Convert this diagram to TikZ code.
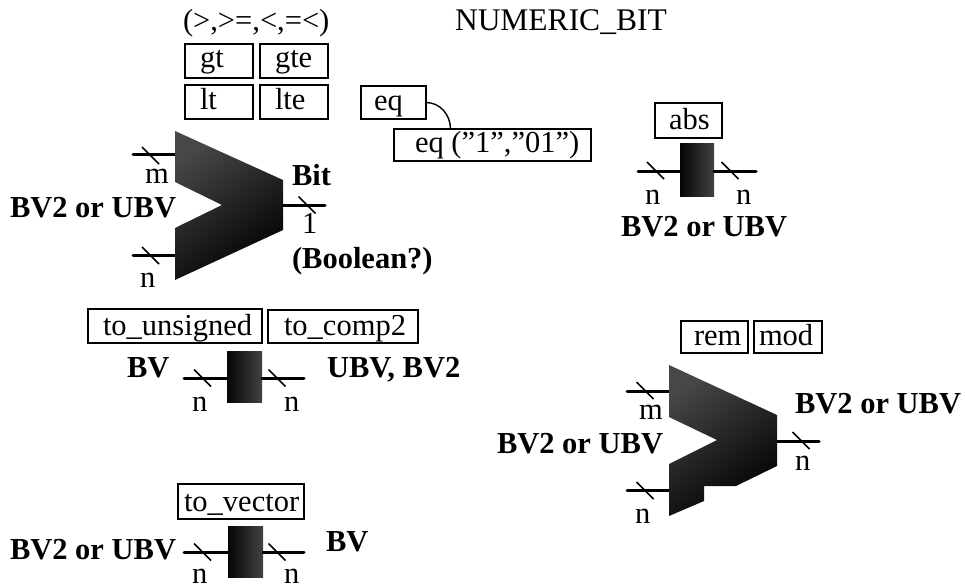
\documentclass[tikz,border=0pt]{standalone}
\usepackage{fontspec}
\setmainfont{Liberation Serif}
\newcommand\lab[4][]{\node[txt,#1] (#2) at #3 {#4};}
% \mybox{name}{x0}{y0}{x1}{y1}{text x}{baseline}{text}
\newcommand\mybox[8]{%
  \pgfmathsetlengthmacro\bw{(#4-#2)*1pt}%
  \pgfmathsetlengthmacro\bh{(#7-#3)*1pt}%
  \pgfmathsetlengthmacro\bd{(#5-#7)*1pt}%
  \pgfmathsetlengthmacro\bo{(#6-#2)*1pt}%
  \node[boxn] (#1) at (#2,#3) {\rule{0pt}{\bh}\rule[-\bd]{0pt}{\bd}\makebox[\bw][l]{\hspace*{\bo}#8}};}
\newcommand\tk[1]{\draw[tick] #1 ++(-8.5,-8.5) -- ++(17,17);}
\tikzset{
  x=1pt,y=-1pt,
  txt/.style={anchor=base west,inner sep=0pt,outer sep=0pt,font=\fontsize{30.5}{32}\selectfont},
  bld/.style={font=\fontsize{30.5}{32}\selectfont\bfseries},
  boxn/.style={draw=black,line width=1.6pt,anchor=north west,inner sep=0pt,outer sep=0pt,fill=white,font=\fontsize{30.5}{32}\selectfont},
  wire/.style={draw=black,line width=3pt,line cap=round},
  tick/.style={draw=black,line width=1.6pt},
  link/.style={draw=black,line width=1.4pt},
  body/.style={anchor=north west,inner sep=0pt,outer sep=0pt,minimum width=35pt,minimum height=51pt,left color=black!98,right color=black!74},
  muxfill/.style={bottom color=black,top color=black!72,shading angle=35},
}
\begin{document}
\begin{tikzpicture}
\useasboundingbox (0,0) rectangle (965,588);
\fill[white] (0,0) rectangle (965,588);

% titles
\lab{cmp}{(183,31)}{(>,>=,<,=<)}
\lab[font=\fontsize{31.5}{33}\selectfont]{title}{(455,31)}{NUMERIC\_BIT}

% comparison boxes
\mybox{gt}{185}{44}{253}{78}{200}{68}{gt}
\mybox{gte}{260}{44}{328}{78}{275}{68}{gte}
\mybox{lt}{185}{85}{253}{119}{200}{110}{lt}
\mybox{lte}{260}{85}{328}{119}{275}{110}{lte}
\mybox{eqa}{361}{86}{426}{119}{374}{111}{eq}
\mybox{eqb}{394}{129}{591}{161}{415}{153}{eq (”1”,”01”)}
\draw[link] (eqa.east) to[out=0,in=90] ([xshift=-42pt]eqb.north);

% first comparator
\coordinate (m1t) at (175,155); \coordinate (m1tl) at (133,155);
\coordinate (m1b) at (175,255); \coordinate (m1bl) at (133,255);
\coordinate (m1o) at (283,205); \coordinate (m1or) at (325,205);
\draw[wire] (m1tl) -- (m1t);
\draw[wire] (m1bl) -- (m1b);
\draw[wire] (m1o) -- (m1or);
\shade[muxfill] (175,131) -- (283,180) -- (283,230) -- (175,280) -- (175,228) -- (222,205) -- (175,182) -- cycle;
\tk{(150.5,155.5)} \tk{(150.5,255.5)} \tk{(307,205)}
\lab{m1m}{(145,183)}{m}
\lab{m1n}{(140,287)}{n}
\lab[bld]{m1in}{(10,217)}{BV2 or UBV}
\lab[bld]{m1bit}{(292,185)}{Bit}
\lab{m1w}{(302,233)}{1}
\lab[bld]{m1bool}{(292,268)}{(Boolean?)}

% abs
\mybox{abs}{655}{103}{722}{138}{669}{130}{abs}
\node[body,minimum width=34pt,minimum height=52pt] (absb) at (680,144) {};
\coordinate (absl) at (638,171); \coordinate (absr) at (756,171);
\draw[wire] (absl) -- (absb.west |- absl);
\draw[wire] (absb.east |- absr) -- (absr);
\tk{(655.5,170.5)} \tk{(730,170.5)}
\lab{absn1}{(645,204)}{n}
\lab{absn2}{(736,204)}{n}
\lab[bld]{abst}{(621,236)}{BV2 or UBV}

% to_unsigned / to_comp2
\mybox{tou}{88}{309}{262}{343}{103}{335}{to\_unsigned}
\mybox{toc}{268}{310}{418}{343}{284}{335}{to\_comp2}
\node[body] (ub) at (227,351) {};
\coordinate (ul) at (184,378); \coordinate (ur) at (304,378);
\draw[wire] (ul) -- (ub.west |- ul);
\draw[wire] (ub.east |- ur) -- (ur);
\tk{(202.5,378)} \tk{(277,378)}
\lab{un1}{(192,411)}{n}
\lab{un2}{(284,411)}{n}
\lab[bld]{ubv}{(127,377)}{BV}
\lab[bld]{uout}{(327,377)}{UBV, BV2}

% to_vector
\mybox{tov}{178}{484}{304}{519}{184}{511}{to\_vector}
\node[body] (vb) at (228,526) {};
\coordinate (vl) at (184,552); \coordinate (vr) at (304,552);
\draw[wire] (vl) -- (vb.west |- vl);
\draw[wire] (vb.east |- vr) -- (vr);
\tk{(202.5,552)} \tk{(277,552)}
\lab{vn1}{(192,583)}{n}
\lab{vn2}{(284,583)}{n}
\lab[bld]{vin}{(10,559)}{BV2 or UBV}
\lab[bld]{vout}{(326,551)}{BV}

% rem / mod
\mybox{rem}{681}{321}{748}{353}{694}{345}{rem}
\mybox{mod}{754}{321}{822}{353}{759}{345}{mod}
\coordinate (m2t) at (669,391); \coordinate (m2tl) at (627,391);
\coordinate (m2b) at (669,490); \coordinate (m2bl) at (627,490);
\coordinate (m2o) at (777,441); \coordinate (m2or) at (819,441);
\draw[wire] (m2tl) -- (m2t);
\draw[wire] (m2bl) -- (m2b);
\draw[wire] (m2o) -- (m2or);
\shade[muxfill] (669,365) -- (777,415) -- (777,466) -- (736,486) -- (704,486) -- (704,501) -- (669,516) -- (669,464) -- (717,440) -- (669,417) -- cycle;
\tk{(645,390.5)} \tk{(645,490.5)} \tk{(801,440.5)}
\lab{m2m}{(639,419)}{m}
\lab{m2n}{(635,523)}{n}
\lab{m2w}{(795,470)}{n}
\lab[bld]{m2in}{(497,453)}{BV2 or UBV}
\lab[bld]{m2out}{(795,413)}{BV2 or UBV}
\end{tikzpicture}
\end{document}
